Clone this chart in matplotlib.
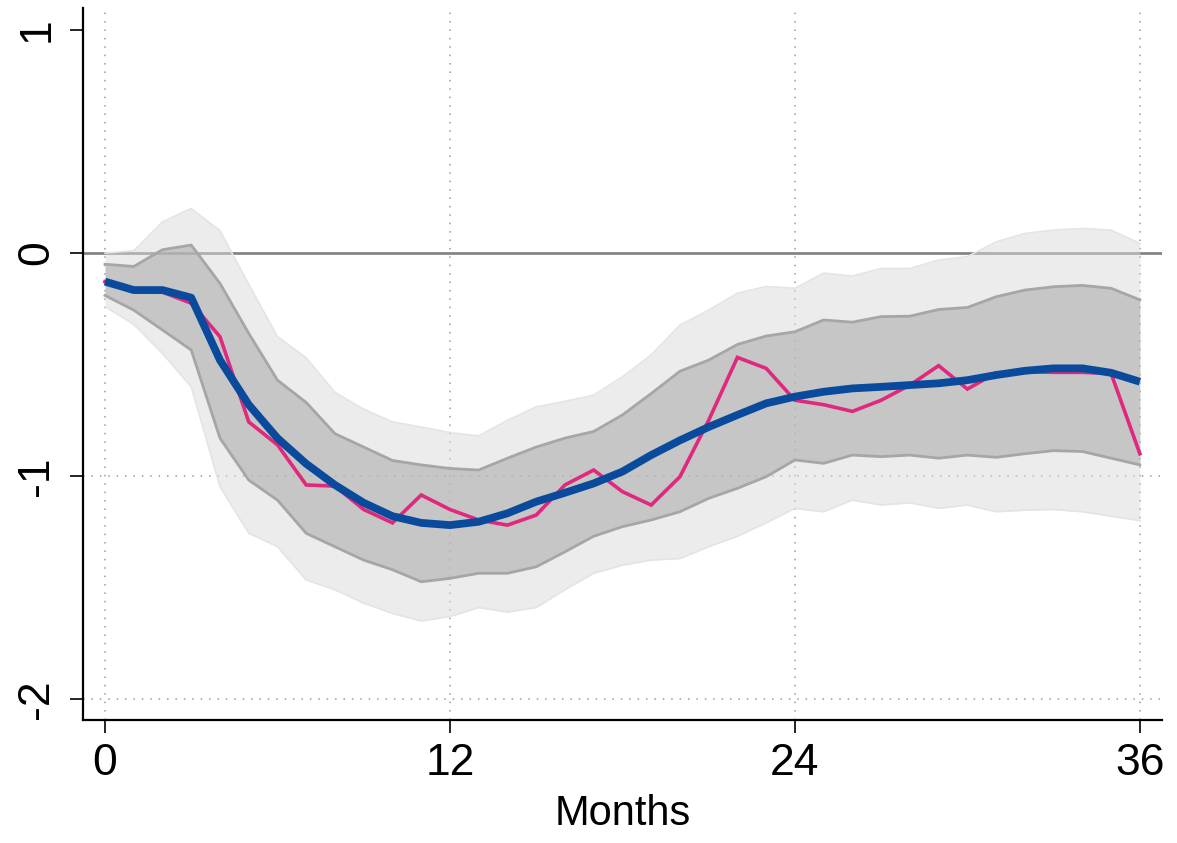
import numpy as np
import matplotlib
matplotlib.use("Agg")
import matplotlib.pyplot as plt

plt.rcParams['font.family'] = ['Liberation Sans', 'DejaVu Sans']

months = np.arange(0, 37)

# point estimate and smoothed response
response_raw = [-0.128, -0.166, -0.175, -0.225, -0.375, -0.757, -0.86, -1.04, -1.045,
                -1.15, -1.21, -1.085, -1.15, -1.197, -1.22, -1.175, -1.04, -0.973,
                -1.07, -1.13, -1.003, -0.75, -0.468, -0.517, -0.66, -0.68, -0.71,
                -0.66, -0.592, -0.505, -0.61, -0.537, -0.532, -0.535, -0.535, -0.54,
                -0.90]
response_smooth = [-0.128, -0.166, -0.166, -0.20, -0.48, -0.68, -0.83, -0.945, -1.04,
                   -1.12, -1.18, -1.21, -1.22, -1.205, -1.167, -1.115, -1.075, -1.033,
                   -0.98, -0.906, -0.84, -0.78, -0.726, -0.674, -0.644, -0.622, -0.607,
                   -0.60, -0.592, -0.584, -0.57, -0.547, -0.528, -0.517, -0.517, -0.537,
                   -0.577]

# inner confidence band
inner_upper = [-0.05, -0.06, 0.015, 0.036, -0.136, -0.36, -0.57, -0.67, -0.81, -0.87,
               -0.93, -0.95, -0.966, -0.973, -0.92, -0.87, -0.83, -0.80, -0.726, -0.63,
               -0.53, -0.48, -0.41, -0.372, -0.353, -0.30, -0.31, -0.285, -0.283, -0.253,
               -0.244, -0.196, -0.166, -0.151, -0.145, -0.158, -0.21]
inner_lower = [-0.19, -0.256, -0.345, -0.435, -0.83, -1.018, -1.108, -1.257, -1.317,
               -1.377, -1.42, -1.474, -1.459, -1.436, -1.436, -1.407, -1.34, -1.27,
               -1.227, -1.197, -1.16, -1.10, -1.055, -1.003, -0.928, -0.943, -0.906,
               -0.913, -0.906, -0.92, -0.906, -0.916, -0.90, -0.886, -0.89, -0.92, -0.95]

# outer confidence band
outer_upper = [0.0, 0.01, 0.14, 0.20, 0.10, -0.14, -0.375, -0.47, -0.625, -0.70, -0.757,
               -0.78, -0.805, -0.82, -0.75, -0.69, -0.665, -0.637, -0.555, -0.457,
               -0.323, -0.256, -0.18, -0.15, -0.158, -0.09, -0.103, -0.069, -0.069,
               -0.031, -0.016, 0.05, 0.088, 0.103, 0.11, 0.103, 0.043]
outer_lower = [-0.24, -0.32, -0.45, -0.60, -1.048, -1.256, -1.317, -1.466, -1.51, -1.57,
               -1.616, -1.65, -1.63, -1.59, -1.61, -1.59, -1.51, -1.436, -1.40, -1.377,
               -1.37, -1.317, -1.27, -1.21, -1.145, -1.16, -1.108, -1.13, -1.12, -1.145,
               -1.13, -1.16, -1.153, -1.15, -1.16, -1.18, -1.20]

x_ticks = [0, 12, 24, 36]
y_ticks = [-2, -1, 0, 1]

fig = plt.figure(figsize=(11.77, 8.43), dpi=100)
ax = fig.add_axes([83 / 1177, 1 - 720 / 843, (1162 - 83) / 1177, (720 - 8) / 843])

ax.set_xlim(-0.765, 36.77)
ax.set_ylim(-2.094, 1.099)

# grid: dotted verticals at ticks, dotted horizontals at -1 and -2
dot = (0, (1, 4.5))
for xv in x_ticks:
    ax.axvline(xv, color='#9a9a9a', lw=1.1, ls=dot, zorder=1)
for yv in [-1, -2]:
    ax.axhline(yv, color='#9a9a9a', lw=1.1, ls=dot, zorder=1)
ax.axhline(0, color='#858585', lw=2.0, zorder=1)

# bands
ax.fill_between(months, outer_lower, outer_upper, color='#dadada', alpha=0.5,
                lw=0, zorder=2)
ax.plot(months, outer_upper, color='#e4e4e4', lw=1.2, zorder=2)
ax.plot(months, outer_lower, color='#e4e4e4', lw=1.2, zorder=2)
ax.fill_between(months, inner_lower, inner_upper, color='#aeaeae', alpha=0.6,
                lw=0, zorder=3)
ax.plot(months, inner_upper, color='#a6a6a6', lw=2.0, zorder=3)
ax.plot(months, inner_lower, color='#a6a6a6', lw=2.0, zorder=3)

# responses
ax.plot(months, response_raw, color='#e0287d', lw=2.6, zorder=4,
        solid_joinstyle='miter')
ax.plot(months, response_smooth, color='#0a4a9c', lw=5.6, zorder=5,
        solid_capstyle='butt')

ax.spines['top'].set_visible(False)
ax.spines['right'].set_visible(False)
for s in ['left', 'bottom']:
    ax.spines[s].set_linewidth(1.6)
    ax.spines[s].set_color('black')

ax.set_xticks(x_ticks)
ax.set_yticks(y_ticks)
ax.set_xticklabels([str(v) for v in x_ticks])
ax.set_yticklabels([str(v) for v in y_ticks], rotation=90, va='center')
ax.tick_params(axis='both', direction='out', length=9.5, width=1.2,
               labelsize=32, colors='black')
ax.tick_params(axis='y', pad=9)
ax.tick_params(axis='x', pad=7)
ax.set_xlabel('Months', fontsize=30, labelpad=7)

fig.savefig('out.png', dpi=100)
